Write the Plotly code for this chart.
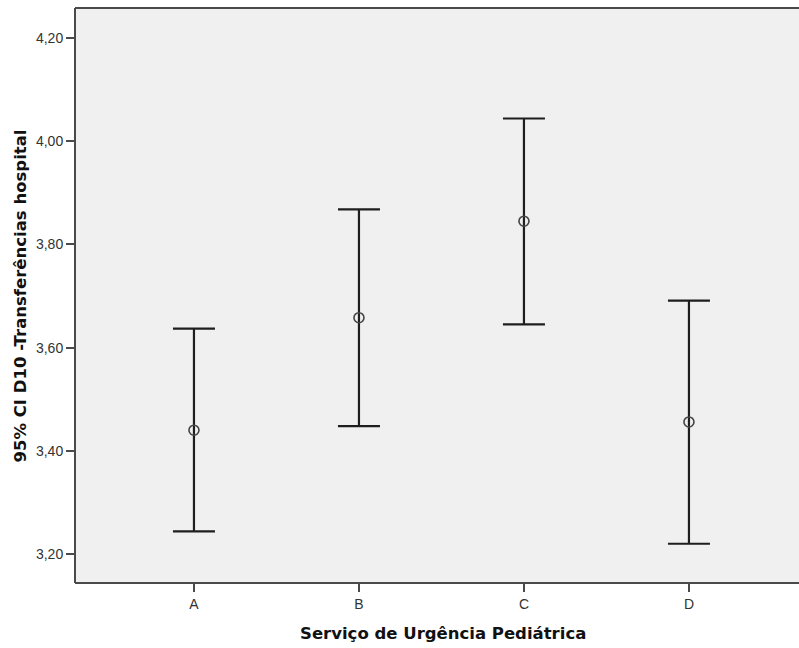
import plotly.graph_objects as go

# Service categories and 95% confidence intervals of D10 (hospital transfers)
categories = ["A", "B", "C", "D"]
means = [3.440, 3.658, 3.845, 3.456]
ci_upper = [3.637, 3.868, 4.044, 3.691]
ci_lower = [3.244, 3.448, 3.645, 3.220]

y_tickvals = [3.20, 3.40, 3.60, 3.80, 4.00, 4.20]
y_ticktext = ["3,20", "3,40", "3,60", "3,80", "4,00", "4,20"]

x_title = "Serviço de Urgência Pediátrica"
y_title = "95% CI D10 -Transferências hospital"

err_plus = [u - m for u, m in zip(ci_upper, means)]
err_minus = [m - l for m, l in zip(means, ci_lower)]

fig = go.Figure()
fig.add_trace(go.Scatter(
    x=categories,
    y=means,
    mode="markers",
    marker=dict(symbol="circle-open", size=10, color="#444444",
                line=dict(width=1.6, color="#444444")),
    error_y=dict(type="data", symmetric=False, array=err_plus,
                 arrayminus=err_minus, color="#1e1e1e", thickness=2.2,
                 width=21),
    showlegend=False,
    hoverinfo="skip",
))

tick_font = dict(family="Arial, Liberation Sans, sans-serif", size=14, color="#333333")
title_font = dict(family="DejaVu Sans, Arial, sans-serif", size=16.5, color="#111111")

frame_color = "#4a4a4a"
# Plot frame: top, bottom and left edges; the right side runs off the page
frame = [
    dict(type="line", xref="paper", yref="paper", x0=0, x1=1.05, y0=1, y1=1,
         line=dict(color=frame_color, width=2), layer="above"),
    dict(type="line", xref="paper", yref="paper", x0=0, x1=1.05, y0=0, y1=0,
         line=dict(color=frame_color, width=2), layer="above"),
    dict(type="line", xref="paper", yref="paper", x0=0, x1=0, y0=0, y1=1,
         line=dict(color=frame_color, width=2), layer="above"),
]

fig.update_layout(
    width=799,
    height=648,
    margin=dict(l=75, r=0, t=8, b=65),
    paper_bgcolor="white",
    plot_bgcolor="#f0f0f0",
    shapes=frame,
    xaxis=dict(
        type="category",
        range=[-0.721, 3.667],
        showgrid=False,
        zeroline=False,
        showline=False,
        ticks="outside",
        ticklen=8,
        tickwidth=1.5,
        tickcolor=frame_color,
        tickfont=tick_font,
    ),
    yaxis=dict(
        range=[3.1439, 4.2581],
        tickvals=y_tickvals,
        ticktext=y_ticktext,
        showgrid=False,
        zeroline=False,
        showline=False,
        ticks="outside",
        ticklen=8,
        tickwidth=1.5,
        tickcolor=frame_color,
        tickfont=tick_font,
    ),
    annotations=[
        dict(text="<b>" + x_title + "</b>", xref="paper", yref="paper",
             x=0.508, y=-0.087, xanchor="center", yanchor="middle",
             showarrow=False, font=title_font),
        dict(text="<b>" + y_title + "</b>", xref="paper", yref="paper",
             x=-0.0746, y=0.5, xanchor="center", yanchor="middle",
             textangle=-90, showarrow=False, font=title_font),
    ],
)

fig.write_html("out.html")
